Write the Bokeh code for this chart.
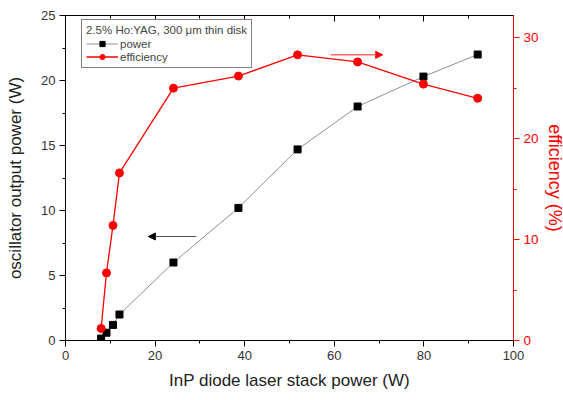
from bokeh.plotting import figure
from bokeh.models import (LinearAxis, Range1d, SingleIntervalTicker, Arrow, NormalHead,
                          Legend, LegendItem, CustomJSTickFormatter)
from bokeh.embed import file_html
from bokeh.resources import INLINE

pump_power = [7.95, 9.15, 10.6, 12.05, 24.1, 38.6, 51.8, 65.2, 79.9, 92.0]
output_power = [0.15, 0.6, 1.2, 2.0, 6.0, 10.2, 14.7, 18.0, 20.3, 22.0]
efficiency = [1.2, 6.7, 11.4, 16.6, 25.0, 26.2, 28.3, 27.6, 25.4, 24.0]

FONT = "Liberation Sans"
RED = "#ff0000"

p = figure(frame_width=448, frame_height=325, output_backend="svg", toolbar_location=None,
           x_range=Range1d(0, 100), y_range=Range1d(0, 25),
           min_border_left=65, min_border_right=48, min_border_top=15, min_border_bottom=58)
p.extra_y_ranges = {"eff": Range1d(0, 32.2)}
p.xgrid.visible = False
p.ygrid.visible = False
p.outline_line_color = "black"
p.outline_line_width = 1

xa = p.xaxis[0]
xa.ticker = SingleIntervalTicker(interval=20, num_minor_ticks=2)
xa.axis_label = "InP diode laser stack power (W)"
ya = p.yaxis[0]
ya.ticker = SingleIntervalTicker(interval=5, num_minor_ticks=2)
ya.axis_label = "oscillator output power (W)"
for ax in (xa, ya):
    ax.axis_label_text_font = FONT
    ax.axis_label_text_font_style = "normal"
    ax.axis_label_text_font_size = "17px"
    ax.axis_label_text_color = "#222222"
    ax.major_label_text_font = FONT
    ax.major_label_text_font_size = "13px"
    ax.major_label_text_color = "#333333"
    ax.major_tick_out = 6
    ax.major_tick_in = 0
    ax.minor_tick_out = 3
    ax.minor_tick_in = 0
    ax.axis_line_color = "black"
    ax.major_label_standoff = 4
xa.axis_label_standoff = 8
ya.axis_label_standoff = 13

top = LinearAxis(ticker=SingleIntervalTicker(interval=20, num_minor_ticks=2),
                 formatter=CustomJSTickFormatter(code="return ''"),
                 major_tick_in=6, major_tick_out=0, minor_tick_in=3, minor_tick_out=0)
p.add_layout(top, "above")

ra = LinearAxis(y_range_name="eff", ticker=SingleIntervalTicker(interval=10, num_minor_ticks=2),
                axis_label="efficiency (%)")
ra.axis_line_color = RED
ra.major_tick_line_color = RED
ra.minor_tick_line_color = RED
ra.major_label_text_color = RED
ra.axis_label_text_color = RED
ra.axis_label_text_font = FONT
ra.axis_label_text_font_style = "normal"
ra.axis_label_text_font_size = "18px"
ra.major_label_text_font = FONT
ra.major_label_text_font_size = "13.5px"
ra.major_tick_out = 6
ra.major_tick_in = 0
ra.minor_tick_out = 3
ra.minor_tick_in = 0
ra.major_label_standoff = 4
ra.axis_label_standoff = 3
p.add_layout(ra, "right")

l1 = p.line(pump_power, output_power, line_color="#909090", line_width=1)
m1 = p.scatter(pump_power, output_power, marker="square", size=7, fill_color="black", line_color="black")
l2 = p.line(pump_power, efficiency, line_color=RED, line_width=1.3, y_range_name="eff")
m2 = p.scatter(pump_power, efficiency, marker="circle", size=8, fill_color=RED, line_color=RED,
               y_range_name="eff")

p.add_layout(Arrow(end=NormalHead(size=7, line_color="black", fill_color="black", line_width=1),
                   x_start=29.2, y_start=8.0, x_end=18.5, y_end=8.0,
                   line_color="#555555", line_width=1))
p.add_layout(Arrow(end=NormalHead(size=7, line_color=RED, fill_color=RED, line_width=1),
                   x_start=59.2, y_start=28.3, x_end=70.8, y_end=28.3,
                   line_color="#ff6666", line_width=1.5, y_range_name="eff"))

legend = Legend(items=[LegendItem(label="power", renderers=[l1, m1]),
                       LegendItem(label="efficiency", renderers=[l2, m2])],
                title="2.5% Ho:YAG, 300 μm thin disk")
legend.title_text_font = FONT
legend.title_text_font_style = "normal"
legend.title_text_font_size = "11.5px"
legend.title_standoff = 1
legend.label_text_font = FONT
legend.label_text_font_size = "11.5px"
legend.label_height = 13
legend.glyph_height = 13
legend.glyph_width = 32
legend.spacing = 0
legend.padding = 4
legend.margin = 0
legend.location = (16, 272)
legend.border_line_color = "black"
legend.border_line_width = 1
legend.label_standoff = 2
p.add_layout(legend)

open("out.html", "w").write(file_html(p, INLINE))
